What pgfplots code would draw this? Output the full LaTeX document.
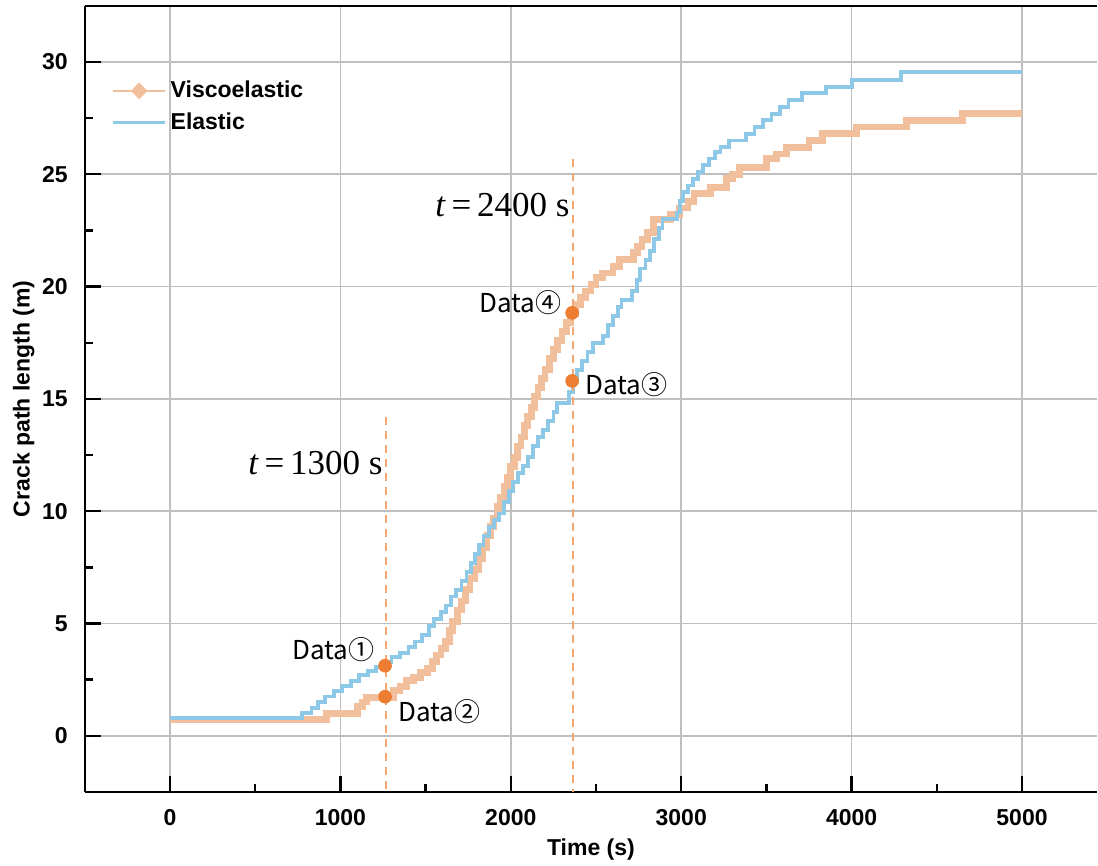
\documentclass[border=0pt]{standalone}
\usepackage{pgfplots}
\pgfplotsset{compat=1.18}
\usepackage{fontspec}
\setmainfont{Liberation Sans}
\newfontfamily\cjk{Noto Sans CJK SC}
\newfontfamily\tnr{Liberation Serif}
\definecolor{elacol}{HTML}{8DC9E6}
\definecolor{viscol}{HTML}{F2BF9C}
\definecolor{dotcol}{HTML}{ED7D31}
\definecolor{dashcol}{HTML}{F4A772}

\begin{document}
\begin{tikzpicture}
\begin{axis}[name=ax,
  scale only axis, width=506pt, height=393pt,
  xmin=-500, xmax=5440, ymin=-2.5, ymax=32.5,
  axis y line*=left, axis x line*=box,
  axis line style={black, line width=1.2pt},
  xtick={0,1000,...,5000}, ytick={0,5,...,30},
  minor x tick num=1, minor y tick num=1,
  tick pos=left, tick align=inside,
  major tick length=8pt, minor tick length=4pt,
  tick style={black, line width=1.2pt},
  xmajorgrids, ymajorgrids,
  grid style={black!25, line width=0.8pt},
  /pgf/number format/assume math mode=true,
  /pgf/number format/set thousands separator={},
  tick label style={font=\bfseries\fontsize{11.5}{12}\selectfont},
  xticklabel style={yshift=-5pt},
  yticklabel style={xshift=-5pt},
  label style={font=\bfseries\fontsize{11.5}{12}\selectfont},
  xlabel={Time (s)}, ylabel={Crack path length (m)},
  ylabel shift=-3pt,
  legend style={at={(rel axis cs:0.02,0.915)}, anchor=north west,
    draw=none, fill=none, row sep=2pt,
    font=\bfseries\fontsize{11.5}{12}\selectfont},
  legend cell align=left,
]
\addplot[const plot, viscol, line width=3.4pt,
  legend image code/.code={
    \draw[viscol, line width=0.8pt] (0pt,0pt) -- (26pt,0pt);
    \fill[viscol] (13pt,0pt) +(-1.8pt,0) -- +(0,1.8pt) -- +(1.8pt,0) -- +(0,-1.8pt) -- cycle;}]
coordinates {
(0,0.72) (920,1.0) (1100,1.3) (1130,1.5) (1155,1.72) (1310,2.0) (1350,2.2)
(1390,2.45) (1430,2.6) (1470,2.8) (1510,3.0) (1540,3.3) (1565,3.6) (1590,3.9)
(1615,4.2) (1640,4.7) (1660,5.1) (1685,5.6) (1710,6.0) (1735,6.5) (1760,7.0)
(1785,7.4) (1810,7.9) (1835,8.4) (1860,8.9) (1880,9.3) (1900,9.7) (1920,10.2)
(1940,10.6) (1960,11.1) (1980,11.5) (2000,12.0) (2020,12.4) (2040,12.9)
(2060,13.3) (2080,13.8) (2100,14.2) (2120,14.6) (2140,15.1) (2160,15.5)
(2180,15.9) (2200,16.3) (2225,16.8) (2250,17.2) (2275,17.6) (2300,18.0)
(2325,18.4) (2350,18.8) (2380,19.2) (2410,19.5) (2440,19.8) (2470,20.1)
(2500,20.4) (2540,20.6) (2600,20.9) (2640,21.2) (2720,21.5) (2745,21.8)
(2770,22.1) (2800,22.4) (2835,23.0) (2935,23.2) (2990,23.5) (3040,23.8)
(3075,24.15) (3170,24.4) (3265,24.8) (3300,25.0) (3340,25.3) (3500,25.7)
(3560,25.9) (3620,26.2) (3750,26.5) (3830,26.8) (4030,27.1) (4320,27.4)
(4650,27.7) (5000,27.7)};
\addlegendentry{Viscoelastic}
\addplot[const plot, elacol, line width=1.9pt,
  legend image code/.code={
    \draw[elacol, line width=1.6pt] (0pt,0pt) -- (26pt,0pt);}]
coordinates {
(0,0.8) (775,1.0) (830,1.25) (870,1.5) (910,1.75) (960,2.0) (1010,2.2)
(1060,2.45) (1110,2.7) (1160,2.9) (1210,3.05) (1265,3.3) (1300,3.5)
(1350,3.7) (1400,3.95) (1440,4.2) (1480,4.5) (1520,4.9) (1550,5.2)
(1590,5.5) (1620,5.8) (1650,6.2) (1680,6.5) (1710,6.9) (1740,7.3)
(1765,7.7) (1790,8.1) (1815,8.5) (1840,8.9) (1870,9.3) (1900,9.6)
(1930,9.9) (1960,10.4) (1990,10.9) (2015,11.3) (2040,11.7) (2070,12.0)
(2100,12.4) (2130,12.9) (2160,13.3) (2190,13.6) (2220,14.0) (2250,14.4)
(2270,14.8) (2340,15.3) (2365,15.8) (2390,16.3) (2420,16.7) (2450,17.1)
(2480,17.5) (2540,17.8) (2570,18.3) (2600,18.7) (2630,19.1) (2650,19.4)
(2710,19.8) (2740,20.3) (2760,20.8) (2790,21.2) (2815,21.6) (2840,22.1)
(2870,22.6) (2890,23.0) (2975,23.3) (2995,23.8) (3010,24.2) (3040,24.5)
(3070,24.8) (3100,25.1) (3130,25.4) (3165,25.7) (3200,26.0) (3230,26.2)
(3280,26.5) (3380,26.8) (3430,27.1) (3480,27.4) (3530,27.7) (3580,28.0)
(3630,28.3) (3710,28.6) (3850,28.9) (4000,29.2) (4290,29.55) (5000,29.55)};
\addlegendentry{Elastic}
% marker lines for the two snapshot times
\addplot[dashcol, line width=1pt, dash pattern=on 4pt off 3pt, forget plot]
  coordinates {(1265,14.2) (1265,-2.5)};
\addplot[dashcol, line width=1pt, dash pattern=on 4pt off 3pt, forget plot]
  coordinates {(2362,25.7) (2362,-2.5)};
\addplot[only marks, mark=*, mark size=3.2pt, dotcol, forget plot]
  coordinates {(1262,3.12) (1262,1.74) (2360,15.8) (2360,18.83)};
\node[anchor=east, inner sep=0pt, font=\cjk\fontsize{13}{14}\selectfont]
  at (axis cs:1203,3.83) {Data①};
\node[anchor=west, inner sep=0pt, font=\cjk\fontsize{13}{14}\selectfont]
  at (axis cs:1338,1.07) {Data②};
\node[anchor=west, inner sep=0pt, font=\cjk\fontsize{13}{14}\selectfont]
  at (axis cs:2435,15.62) {Data③};
\node[anchor=east, inner sep=0pt, font=\cjk\fontsize{13}{14}\selectfont]
  at (axis cs:2300,19.27) {Data④};
\node[anchor=east, inner sep=0pt, font=\tnr\fontsize{17.5}{18}\selectfont]
  at (axis cs:1250,12.15) {\textit{t}\,=\,1300 s};
\node[anchor=east, inner sep=0pt, font=\tnr\fontsize{17.5}{18}\selectfont]
  at (axis cs:2347,23.63) {\textit{t}\,=\,2400 s};
\end{axis}
\pgfresetboundingbox
\path ([xshift=-42.4pt,yshift=-37pt]ax.south west) rectangle ([xshift=0.5pt,yshift=2.9pt]ax.north east);
\end{tikzpicture}
\end{document}
